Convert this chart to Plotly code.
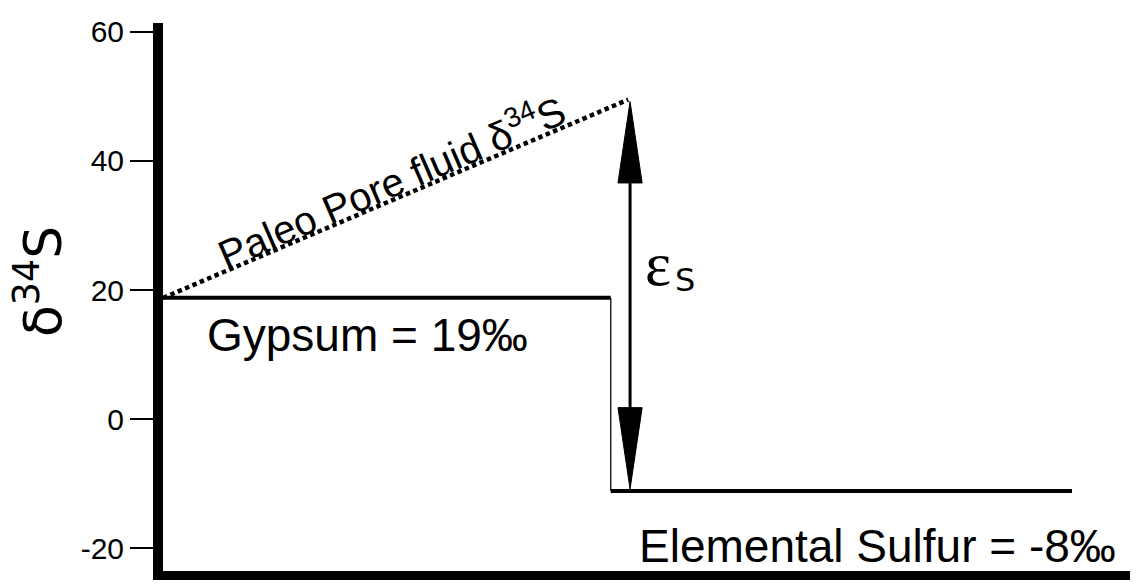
import plotly.graph_objects as go

# ---- data ----
gypsum_x = [0.0, 4.63]
gypsum_val = 18.8
sulfur_x = [4.63, 9.40]
sulfur_val = -11.1
pore_x = [0.0, 4.81]
pore_y = [18.8, 49.5]
eps_x = 4.83
eps_top = 49.2
eps_bottom = -10.8
y_ticks = [-20, 0, 20, 40, 60]
y_range = [-23.5, 61.37]
x_range = [0, 10]

head_len = 12.6    # arrow head length (y units)
head_half = 0.125  # arrow head half width (x units)

BLACK = "#000000"
FONT = "Liberation Sans, Arial, sans-serif"

fig = go.Figure()

# Gypsum level
fig.add_trace(go.Scatter(x=gypsum_x, y=[gypsum_val] * 2, mode="lines",
                         line=dict(color=BLACK, width=4), hoverinfo="skip"))
# step connector
fig.add_trace(go.Scatter(x=[gypsum_x[1], sulfur_x[0]], y=[gypsum_val, sulfur_val], mode="lines",
                         line=dict(color="#222222", width=1.5), hoverinfo="skip"))
# Elemental sulfur level
fig.add_trace(go.Scatter(x=sulfur_x, y=[sulfur_val] * 2, mode="lines",
                         line=dict(color=BLACK, width=4), hoverinfo="skip"))
# Paleo pore fluid trend (dotted)
fig.add_trace(go.Scatter(x=pore_x, y=pore_y, mode="lines",
                         line=dict(color=BLACK, width=4.5, dash="4.5px,3.5px"), hoverinfo="skip"))
# epsilon double arrow shaft
fig.add_trace(go.Scatter(x=[eps_x, eps_x], y=[eps_top - head_len + 1, eps_bottom + head_len - 1],
                         mode="lines", line=dict(color=BLACK, width=3), hoverinfo="skip"))
# arrow heads
fig.add_trace(go.Scatter(x=[eps_x, eps_x - head_half, eps_x + head_half, eps_x],
                         y=[eps_top, eps_top - head_len, eps_top - head_len, eps_top],
                         mode="lines", fill="toself", fillcolor=BLACK,
                         line=dict(color=BLACK, width=1), hoverinfo="skip"))
fig.add_trace(go.Scatter(x=[eps_x, eps_x - head_half, eps_x + head_half, eps_x],
                         y=[eps_bottom, eps_bottom + head_len, eps_bottom + head_len, eps_bottom],
                         mode="lines", fill="toself", fillcolor=BLACK,
                         line=dict(color=BLACK, width=1), hoverinfo="skip"))

annotations = [
    dict(x=0.43, y=13.1, xanchor="left", yanchor="middle",
         text="Gypsum = 19‰", font=dict(size=46, family=FONT, color=BLACK)),
    dict(x=4.90, y=-19.6, xanchor="left", yanchor="middle",
         text="Elemental Sulfur = -8‰", font=dict(size=46, family=FONT, color=BLACK)),
    dict(x=4.96, y=24.1, xanchor="left", yanchor="middle",
         text="ε", font=dict(size=62, family="Liberation Serif, serif", color=BLACK)),
    dict(x=5.27, y=21.6, xanchor="left", yanchor="middle",
         text="S", font=dict(size=32, family="DejaVu Sans, sans-serif", color=BLACK)),
    dict(x=2.36, y=37.0, xanchor="center", yanchor="middle", textangle=-23.4,
         text="Paleo Pore fluid δ<sup>34</sup>S",
         font=dict(size=40, family=FONT, color=BLACK)),
    dict(xref="paper", x=-0.128, y=21.3, xanchor="center", yanchor="middle", textangle=-90,
         text="δ<sup>34</sup>S",
         font=dict(size=52, family="DejaVu Sans, sans-serif", color=BLACK)),
]
for a in annotations:
    a.setdefault("xref", "x")
    a["yref"] = "y"
    a["showarrow"] = False

# page body adds an 8px offset, so the figure is sized/margined to compensate
fig.update_layout(
    width=1130, height=576,
    margin=dict(l=155, r=8, t=7, b=13),
    paper_bgcolor="white", plot_bgcolor="white",
    showlegend=False,
    annotations=annotations,
    xaxis=dict(range=x_range, showgrid=False, zeroline=False, showticklabels=False,
               ticks="", showline=True, linecolor=BLACK, linewidth=9),
    yaxis=dict(range=y_range, tickvals=y_ticks, ticktext=[str(v) for v in y_ticks],
               showgrid=False, zeroline=False, ticks="outside", ticklen=23, tickwidth=2,
               tickcolor=BLACK, showline=True, linecolor=BLACK, linewidth=10,
               ticklabeloverflow="allow",
               tickfont=dict(size=30, family=FONT, color=BLACK)),
)

fig.write_html("out.html")
